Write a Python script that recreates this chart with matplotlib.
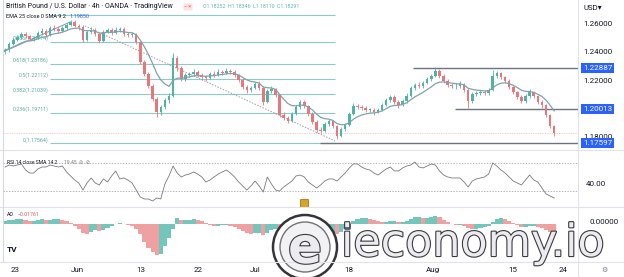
import numpy as np
import pandas as pd
import matplotlib
matplotlib.use('Agg')
import matplotlib.pyplot as plt
import matplotlib.patheffects as pe
from matplotlib.patches import Circle, FancyBboxPatch

plt.rcParams['font.family'] = ['Roboto', 'DejaVu Sans']

# GBPUSD, half-day candles, 20 May - 22 Aug
first_open = 1.2400
closes = [
    1.2416, 1.2459, 1.2487, 1.2508, 1.2529, 1.2515, 1.2494, 1.2501, 1.2536, 1.2551,
    1.2522, 1.2572, 1.2565, 1.2551, 1.2572, 1.2593, 1.2614, 1.2586, 1.2579, 1.2487,
    1.2544, 1.2558, 1.2529, 1.2480, 1.2544, 1.2558, 1.2536, 1.2558, 1.2565, 1.2529,
    1.2522, 1.2529, 1.2473, 1.2332, 1.2247, 1.2162, 1.2070, 1.1979, 1.2014, 1.2063,
    1.2092, 1.2360, 1.2289, 1.2212, 1.2240, 1.2247, 1.2261, 1.2240, 1.2226, 1.2219,
    1.2247, 1.2240, 1.2261, 1.2254, 1.2268, 1.2261, 1.2240, 1.2205, 1.2155, 1.2134,
    1.2148, 1.2176, 1.2148, 1.2049, 1.2127, 1.2141, 1.2099, 1.1958, 1.1936, 1.1915,
    1.1965, 1.2014, 1.2049, 1.2021, 1.1965, 1.1908, 1.1852, 1.1845, 1.1894, 1.1915,
    1.1880, 1.1809, 1.1859, 1.1887, 1.1965, 1.2021, 1.2014, 1.2007, 1.1993, 1.1993,
    1.1979, 1.1993, 1.2028, 1.2063, 1.2085, 1.2049, 1.2028, 1.2056, 1.2092, 1.2148,
    1.2169, 1.2162, 1.2183, 1.2212, 1.2233, 1.2268, 1.2233, 1.2198, 1.2169, 1.2162,
    1.2162, 1.2176, 1.2134, 1.2056, 1.2106, 1.2113, 1.2120, 1.2113, 1.2134, 1.2233,
    1.2254, 1.2226, 1.2198, 1.2155, 1.2120, 1.2085, 1.2056, 1.2092, 1.2120, 1.2092,
    1.2049, 1.2028, 1.1958, 1.1880, 1.1829]
highs = [
    1.2430, 1.2470, 1.2500, 1.2525, 1.2545, 1.2542, 1.2525, 1.2515, 1.2550, 1.2568,
    1.2562, 1.2585, 1.2590, 1.2580, 1.2588, 1.2605, 1.2630, 1.2625, 1.2600, 1.2590,
    1.2558, 1.2575, 1.2570, 1.2540, 1.2555, 1.2572, 1.2570, 1.2575, 1.2580, 1.2575,
    1.2545, 1.2540, 1.2538, 1.2480, 1.2345, 1.2260, 1.2175, 1.2085, 1.2030, 1.2080,
    1.2110, 1.2395, 1.2375, 1.2300, 1.2255, 1.2262, 1.2280, 1.2272, 1.2252, 1.2240,
    1.2262, 1.2265, 1.2285, 1.2275, 1.2290, 1.2282, 1.2272, 1.2250, 1.2215, 1.2168,
    1.2165, 1.2190, 1.2195, 1.2160, 1.2140, 1.2160, 1.2150, 1.2105, 1.1975, 1.1950,
    1.1980, 1.2030, 1.2065, 1.2060, 1.2030, 1.1975, 1.1920, 1.1870, 1.1910, 1.1930,
    1.1925, 1.1890, 1.1875, 1.1900, 1.1980, 1.2040, 1.2035, 1.2030, 1.2020, 1.2010,
    1.2005, 1.2010, 1.2045, 1.2080, 1.2100, 1.2095, 1.2060, 1.2070, 1.2110, 1.2165,
    1.2185, 1.2190, 1.2200, 1.2228, 1.2250, 1.2293, 1.2280, 1.2245, 1.2210, 1.2185,
    1.2180, 1.2195, 1.2185, 1.2145, 1.2120, 1.2130, 1.2135, 1.2135, 1.2150, 1.2276,
    1.2270, 1.2262, 1.2235, 1.2210, 1.2165, 1.2130, 1.2095, 1.2105, 1.2140, 1.2130,
    1.2100, 1.2060, 1.2035, 1.1965, 1.1890]
lows = [
    1.2385, 1.2405, 1.2450, 1.2478, 1.2495, 1.2503, 1.2480, 1.2482, 1.2495, 1.2525,
    1.2510, 1.2515, 1.2550, 1.2538, 1.2540, 1.2560, 1.2585, 1.2575, 1.2560, 1.2470,
    1.2478, 1.2530, 1.2515, 1.2465, 1.2472, 1.2535, 1.2522, 1.2528, 1.2545, 1.2515,
    1.2505, 1.2508, 1.2460, 1.2320, 1.2230, 1.2145, 1.2055, 1.1940, 1.1960, 1.2000,
    1.2040, 1.2085, 1.2270, 1.2195, 1.2200, 1.2225, 1.2235, 1.2228, 1.2205, 1.2200,
    1.2210, 1.2225, 1.2230, 1.2238, 1.2245, 1.2245, 1.2228, 1.2190, 1.2140, 1.2115,
    1.2120, 1.2140, 1.2135, 1.2030, 1.2040, 1.2115, 1.2085, 1.1945, 1.1920, 1.1900,
    1.1905, 1.1955, 1.2000, 1.2005, 1.1950, 1.1895, 1.1835, 1.1830, 1.1838, 1.1880,
    1.1865, 1.1790, 1.1800, 1.1845, 1.1880, 1.1955, 1.2000, 1.1990, 1.1975, 1.1978,
    1.1960, 1.1970, 1.1985, 1.2020, 1.2050, 1.2035, 1.2010, 1.2020, 1.2045, 1.2085,
    1.2135, 1.2145, 1.2150, 1.2175, 1.2200, 1.2225, 1.2220, 1.2185, 1.2155, 1.2145,
    1.2140, 1.2150, 1.2120, 1.2004, 1.2045, 1.2090, 1.2098, 1.2095, 1.2100, 1.2125,
    1.2220, 1.2210, 1.2185, 1.2140, 1.2105, 1.2070, 1.2040, 1.2045, 1.2080, 1.2075,
    1.2035, 1.2010, 1.1945, 1.1865, 1.1811]
rsi = [
    63.9, 66.7, 65.3, 66.7, 68.2, 59.7, 55.4, 55.4, 61.1, 63.9,
    63.9, 66.7, 65.3, 63.9, 65.3, 56.9, 51.2, 45.5, 41.3, 31.4,
    41.3, 48.4, 41.3, 38.5, 47.0, 42.7, 51.2, 58.3, 47.0, 48.4,
    45.5, 41.3, 31.4, 21.5, 18.7, 18.7, 15.9, 20.1, 18.7, 39.9,
    51.2, 65.3, 55.4, 49.8, 52.6, 54.0, 56.9, 54.0, 49.8, 42.7,
    45.5, 49.8, 54.0, 56.9, 59.7, 55.4, 49.8, 42.7, 37.1, 31.4,
    37.1, 44.1, 37.1, 28.6, 49.8, 39.9, 31.4, 30.0, 35.7, 39.9,
    44.1, 51.2, 52.6, 49.8, 42.7, 38.5, 34.2, 38.5, 44.1, 47.0,
    47.0, 44.1, 49.8, 55.4, 62.5, 68.2, 68.2, 63.9, 61.1, 59.7,
    55.4, 52.6, 56.9, 61.1, 63.9, 58.3, 58.3, 62.5, 65.3, 66.7,
    71.0, 63.9, 62.5, 65.3, 68.2, 66.7, 58.3, 52.6, 49.8, 48.4,
    48.4, 48.4, 42.7, 35.7, 44.1, 47.0, 48.4, 49.8, 54.0, 69.6,
    65.3, 59.7, 55.4, 49.8, 44.1, 41.3, 38.5, 45.5, 52.6, 45.5,
    42.7, 34.2, 25.8, 22.9, 20.1]
ao = [
    0.0018, 0.0024, 0.0024, 0.0030, 0.0030, 0.0024, 0.0018, 0.0018, 0.0024, 0.0030,
    0.0024, 0.0024, 0.0030, 0.0030, 0.0024, 0.0018, 0.0006, -0.0012, -0.0030, -0.0054,
    -0.0060, -0.0048, -0.0036, -0.0042, -0.0036, -0.0024, -0.0012, 0.0000, 0.0006, 0.0000,
    -0.0006, -0.0012, -0.0030, -0.0060, -0.0108, -0.0144, -0.0168, -0.0186, -0.0180, -0.0132,
    -0.0084, -0.0030, 0.0036, 0.0024, 0.0024, 0.0024, 0.0030, 0.0024, 0.0018, 0.0006,
    -0.0006, -0.0012, -0.0012, -0.0006, -0.0006, -0.0012, -0.0018, -0.0030, -0.0042, -0.0054,
    -0.0060, -0.0054, -0.0054, -0.0066, -0.0054, -0.0036, -0.0030, -0.0042, -0.0054, -0.0066,
    -0.0072, -0.0060, -0.0048, -0.0042, -0.0048, -0.0060, -0.0072, -0.0078, -0.0066, -0.0054,
    -0.0054, -0.0060, -0.0048, -0.0030, -0.0006, 0.0018, 0.0030, 0.0036, 0.0036, 0.0030,
    0.0024, 0.0018, 0.0012, 0.0012, 0.0018, 0.0018, 0.0012, 0.0012, 0.0018, 0.0030,
    0.0042, 0.0042, 0.0036, 0.0036, 0.0042, 0.0048, 0.0042, 0.0024, 0.0012, 0.0000,
    -0.0006, -0.0006, -0.0012, -0.0024, -0.0030, -0.0030, -0.0024, -0.0018, -0.0012, 0.0012,
    0.0030, 0.0036, 0.0030, 0.0018, 0.0006, -0.0006, -0.0018, -0.0018, -0.0012, -0.0012,
    -0.0018, -0.0024, -0.0036, -0.0048, -0.0060]

tick_pos = [2.4, 17.6, 33.2, 47.1, 61.0, 83.9, 104.4, 123.9, 136.1]
tick_labels = ['23', 'Jun', '13', '22', 'Jul', '18', 'Aug', '15', '24']

fib_ratios = [1, 0.786, 0.618, 0.5, 0.382, 0.236, 0]
fib_prices = [1.26661, 1.24714, 1.23186, 1.22112, 1.21039, 1.19711, 1.17564]
fib_from, fib_to = 11, 80.5

levels = [1.22887, 1.20013, 1.17597]
level_from = [99.5, 109.8, 76.8]

trend_up_x, trend_up_y = [-0.5, 15.9], [1.2402, 1.2614]
trend_dn_x, trend_dn_y = [19.5, 80.5], [1.2586, 1.1774]

price_ticks = [1.26, 1.24, 1.22, 1.18]

UP, DOWN = '#4fb3a5', '#e8767a'
TXT = '#131722'
W, H = 624, 277
XMAX = 139.8

fig = plt.figure(figsize=(W / 100, H / 100), dpi=100)
fig.patch.set_facecolor('white')


def pane(top, bottom):
    ax = fig.add_axes([3 / W, 1 - bottom / H, 575 / W, (bottom - top) / H])
    ax.set_xlim(-0.5, XMAX)
    for s in ax.spines.values():
        s.set_visible(False)
    ax.tick_params(left=False, bottom=False, labelleft=False, labelbottom=False)
    return ax


ax = pane(0, 150)
ax_rsi = pane(150, 207)
ax_ao = pane(207, 262)

ax.set_ylim(1.1710, 1.2769)
ax_rsi.set_ylim(7.4, 87.9)
ax_ao.set_ylim(-0.0231, 0.0099)

idx = np.arange(len(closes))
c = np.array(closes)
o = np.array([first_open] + closes[:-1])
cols = np.where(c >= o, UP, DOWN)

# fib retracement
for r, p in zip(fib_ratios, fib_prices):
    ax.hlines(p, fib_from, fib_to, color='#8fcac4', lw=0.8, zorder=1)
    if r != 1:
        ax.text(fib_from - 0.4, p + 0.0006, f'{r:g}({p:.5f})', ha='right', va='bottom',
                fontsize=3.8, color='#5aa9a3')

ax.plot(trend_up_x, trend_up_y, color='#7f93b0', lw=0.7, zorder=1)
ax.plot(trend_dn_x, trend_dn_y, color='#9aa0ab', lw=0.7, ls=(0, (1.5, 1.5)), zorder=1)

for lv, x0 in zip(levels, level_from):
    ax.hlines(lv, x0, XMAX, color='#6a7385', lw=1.0, zorder=2)

ax.axhline(closes[-1], color='#ef5350', lw=0.5, ls=(0, (1, 1.5)), alpha=0.6, zorder=1)

ax.vlines(idx, lows, highs, colors=cols, lw=0.6, zorder=3)
ax.bar(idx, np.maximum(np.abs(c - o), 0.0003), bottom=np.minimum(o, c), width=0.62,
       color=cols, lw=0, zorder=4)

ema = pd.Series(closes).ewm(span=9, adjust=False).mean()
ax.plot(idx, ema, color='#7fa3ad', lw=0.9, zorder=5)

# price scale
yt = ax.get_yaxis_transform()
ax.text(1.009, 1.2713, 'USD\u25be', transform=yt, fontsize=5.6, color=TXT, va='center', clip_on=False)
for p in price_ticks:
    ax.text(1.009, p, f'{p:.5f}', transform=yt, fontsize=5.8, color=TXT, va='center', clip_on=False)
for lv in levels:
    ax.text(1.034, lv, f'{lv:.5f}', transform=yt, fontsize=5.8, color='white', ha='center',
            va='center', clip_on=False,
            bbox=dict(boxstyle='square,pad=0.22', fc='#2962ff', ec='none'))

# RSI
ax_rsi.axhline(70, color='#9598a1', lw=0.5, ls=(0, (2, 2)))
ax_rsi.axhline(30, color='#9598a1', lw=0.5, ls=(0, (2, 2)))
ax_rsi.plot(idx, rsi, color='#7a7a7a', lw=0.6)
ax_rsi.text(1.013, 40, '40.00', transform=ax_rsi.get_yaxis_transform(), fontsize=5.8,
            color=TXT, va='center', clip_on=False)

# Awesome oscillator
a = np.array(ao)
ao_cols = np.where(np.diff(a, prepend=a[0]) >= 0, '#72c6bb', '#eea1a0')
ax_ao.bar(idx, a, width=1.0, color=ao_cols, lw=0)
ax_ao.text(1.020, 0.0008, '0.00000', transform=ax_ao.get_yaxis_transform(), fontsize=5.8,
           color=TXT, va='center', clip_on=False)
ax_ao.tick_params(labelbottom=True, length=0, pad=3.5, labelsize=5.8, labelcolor=TXT)
ax_ao.set_xticks(tick_pos)
ax_ao.set_xticklabels(tick_labels)

# overlay in pixel space: legends, separators, watermark
ov = fig.add_axes([0, 0, 1, 1], zorder=10)
ov.set_xlim(0, W)
ov.set_ylim(H, 0)
ov.axis('off')

for y in [150, 207, 262]:
    ov.plot([0, W], [y, y], color='#e0e3eb', lw=0.8)
ov.plot([578, 578], [0, 277], color='#e0e3eb', lw=0.8)
ov.plot([2.5, 2.5], [0, 262], color='#d6d9e0', lw=0.8)

ov.text(6, 7, 'British Pound / U.S. Dollar \u00b7 4h \u00b7 OANDA \u00b7 TradingView',
        fontsize=5.0, color=TXT, va='center')
ov.text(188, 7, '\u2212 \u00d7', fontsize=3.8, color='#e05a5a', va='center', ha='center',
        bbox=dict(boxstyle='round,pad=0.2', fc='#fde3e3', ec='none'))
ov.text(203, 7, 'O1.18252  H1.18346  L1.18110  C1.18291', fontsize=3.8, color='#5fb8ab', va='center')
ov.text(6, 17, 'EMA 25 close 0 SMA 9 2', fontsize=4.0, color=TXT, va='center')
ov.text(70, 17, '1.19850', fontsize=4.0, color='#2962ff', va='center')
ov.text(7, 163, 'RSI 14 close SMA 14 2', fontsize=3.6, color=TXT, va='center')
ov.text(64, 163, '19.45  \u2298  \u2298', fontsize=3.6, color='#7e7e7e', va='center')
ov.text(7, 214, 'AO', fontsize=3.8, color=TXT, va='center')
ov.text(18, 214, '\u22120.01761', fontsize=3.8, color='#e05a5a', va='center')
ov.text(7, 249, 'TV', fontsize=6, color=TXT, va='center', fontweight='bold')
ov.text(604, 270, '\u2699', fontsize=5, color='#787b86', va='center', ha='center')

# ieconomy.io watermark
stroke = [pe.Stroke(linewidth=1.6, foreground='#3a3a3e'), pe.Normal()]
ov.add_patch(Circle((305, 247), 32, fc='white', ec='#2a2a2e', lw=1.8, alpha=0.95))
ov.add_patch(Circle((305, 247), 25, fc='#f2f2f4', ec='#6a6a70', lw=1.0, alpha=0.95))
ov.text(305, 249, 'e', fontsize=36, family='DejaVu Sans', fontweight='bold', color='#ececf0',
        ha='center', va='center', path_effects=stroke)
ov.add_patch(FancyBboxPatch((301, 200), 7, 7, boxstyle='round,pad=0.5', fc='#d9a520', ec='#8a6a10', lw=0.5))
ov.add_patch(FancyBboxPatch((345, 224), 5, 5, boxstyle='round,pad=0.3', fc='#5a7a9a', ec='#2a3a4a', lw=0.5))
ov.text(341, 256, 'ieconomy.io', fontsize=32, family='DejaVu Sans', color='#ececf0',
        va='baseline', ha='left', path_effects=stroke)

fig.savefig('out.png', dpi=100)
